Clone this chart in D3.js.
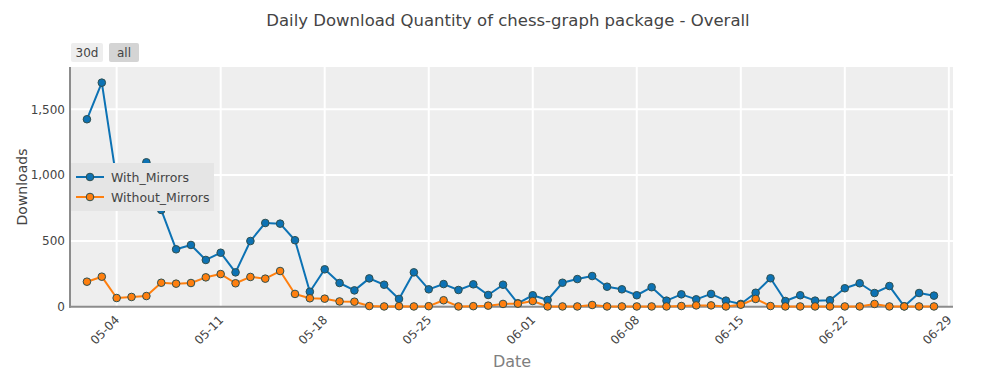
<!DOCTYPE html>
<html>
<head>
<meta charset="utf-8">
<script src="https://cdn.jsdelivr.net/npm/d3@7"></script>
<style>
    body { margin: 0; background: #fff; }
    text { font-family: "DejaVu Sans", Verdana, sans-serif; }
</style>
</head>
<body>
<div id="chart"></div>
<script>
"use strict"
// Daily values, 05-02 .. 06-28
var startDate = "2023-05-02"
var withMirrors = [1424, 1702, 960, 990, 1097, 735, 436, 469, 355, 410,
    261, 499, 636, 631, 505, 114, 284, 180, 124, 215,
    167, 59, 261, 132, 172, 127, 170, 89, 167, 26,
    87, 51, 182, 210, 233, 152, 132, 87, 148, 46,
    94, 56, 97, 46, 21, 106, 216, 43, 87, 46,
    49, 140, 178, 104, 157, 3, 104, 84]
var withoutMirrors = [190, 228, 66, 74, 81, 182, 175, 180, 223, 248,
    178, 226, 213, 271, 97, 64, 61, 40, 38, 5,
    2, 4, 2, 4, 49, 2, 4, 8, 21, 23,
    43, 2, 2, 2, 13, 2, 2, 2, 2, 2,
    5, 10, 10, 2, 15, 59, 5, 2, 2, 2,
    2, 2, 2, 21, 2, 2, 2, 2]
var seriesNames = ["With_Mirrors", "Without_Mirrors"]
var seriesColors = ["#0c72b4", "#ff7f0e"]
var yTicks = [0, 500, 1000, 1500]
var buttons = ["30d", "all"]

var width = 985, height = 392
var margin = { top: 67, right: 32, bottom: 85.3, left: 70 }
var drawWidth = width - margin.left - margin.right
var drawHeight = height - margin.top - margin.bottom

var parse = d3.timeParse("%Y-%m-%d")
var day0 = parse(startDate)
var dates = withMirrors.map(function (d, i) { return d3.timeDay.offset(day0, i) })
var DAY = 864e5

var xScale = d3.scaleTime()
    .domain([new Date(+parse("2023-05-04") - 3.14 * DAY), new Date(+parse("2023-05-04") + 56.28 * DAY)])
    .range([0, drawWidth])
var yScale = d3.scaleLinear().domain([0, 1821]).range([drawHeight, 0])

var svg = d3.select("#chart").append("svg").attr("width", width).attr("height", height)

svg.append("text")
    .attr("x", 508).attr("y", 26)
    .attr("text-anchor", "middle")
    .attr("fill", "#444").style("font-size", "16.5px")
    .text("Daily Download Quantity of chess-graph package - Overall")

var g = svg.append("g").attr("transform", "translate(" + margin.left + "," + margin.top + ")")

g.append("rect").attr("width", drawWidth).attr("height", drawHeight).attr("fill", "#eeeeee")

// weekly ticks, 05-04 .. 06-29
var xTickDates = d3.range(0, 9).map(function (i) { return d3.timeDay.offset(parse("2023-05-04"), i * 7) })

// gridlines
g.selectAll(".xgrid").data(xTickDates).enter().append("line")
    .attr("x1", function (d) { return xScale(d) }).attr("x2", function (d) { return xScale(d) })
    .attr("y1", 0).attr("y2", drawHeight)
    .attr("stroke", "#fff").attr("stroke-width", 2)
g.selectAll(".ygrid").data(yTicks.slice(1)).enter().append("line")
    .attr("x1", 0).attr("x2", drawWidth)
    .attr("y1", function (d) { return yScale(d) }).attr("y2", function (d) { return yScale(d) })
    .attr("stroke", "#fff").attr("stroke-width", 2)

// axes
var xAxis = d3.axisBottom(xScale).tickValues(xTickDates).tickFormat(d3.timeFormat("%m-%d")).tickSize(0)
var gx = g.append("g").attr("transform", "translate(0," + drawHeight + ")").call(xAxis)
gx.select(".domain").remove()
gx.selectAll("text")
    .attr("fill", "#444").style("font-size", "12px")
    .attr("text-anchor", "end")
    .attr("dy", "0")
    .attr("y", 0).attr("x", 0)
    .attr("transform", "translate(3,14) rotate(-45)")

var yAxis = d3.axisLeft(yScale).tickValues(yTicks).tickFormat(d3.format(",")).tickSize(0).tickPadding(5)
var gy = g.append("g").call(yAxis)
gy.select(".domain").remove()
gy.selectAll("text").attr("fill", "#444").style("font-size", "12px")

g.append("line").attr("x1", -1).attr("x2", drawWidth).attr("y1", drawHeight).attr("y2", drawHeight)
    .attr("stroke", "#8c8c8c").attr("stroke-width", 2)
g.append("line").attr("x1", 0).attr("x2", 0).attr("y1", 0).attr("y2", drawHeight + 1)
    .attr("stroke", "#8c8c8c").attr("stroke-width", 2)

svg.append("text").attr("x", 512).attr("y", 367).attr("text-anchor", "middle")
    .attr("fill", "#7f7f7f").style("font-size", "16px").text("Date")
svg.append("text").attr("transform", "translate(27,187) rotate(-90)").attr("text-anchor", "middle")
    .attr("fill", "#444").style("font-size", "14px").text("Downloads")

// series
var allSeries = [withMirrors, withoutMirrors]
var line = d3.line()
    .x(function (d, i) { return xScale(dates[i]) })
    .y(function (d) { return yScale(d) })

allSeries.forEach(function (values, k) {
    g.append("path").datum(values)
        .attr("fill", "none").attr("stroke", seriesColors[k]).attr("stroke-width", 2)
        .attr("stroke-linejoin", "round")
        .attr("d", line)
    g.selectAll(".pt" + k).data(values).enter().append("circle")
        .attr("cx", function (d, i) { return xScale(dates[i]) })
        .attr("cy", function (d) { return yScale(d) })
        .attr("r", 3.8)
        .attr("fill", seriesColors[k]).attr("stroke", "#2f4f4f").attr("stroke-width", 1)
})

// legend
var legend = svg.append("g").attr("transform", "translate(71,163)")
legend.append("rect").attr("width", 143).attr("height", 48).attr("fill", "#e5e5e5")
seriesNames.forEach(function (name, k) {
    var ly = 14 + k * 20
    legend.append("line").attr("x1", 5).attr("x2", 33).attr("y1", ly).attr("y2", ly)
        .attr("stroke", seriesColors[k]).attr("stroke-width", 2)
    legend.append("circle").attr("cx", 19).attr("cy", ly).attr("r", 3.8)
        .attr("fill", seriesColors[k]).attr("stroke", "#2f4f4f").attr("stroke-width", 1)
    legend.append("text").attr("x", 40).attr("y", ly + 4.5)
        .attr("fill", "#444").style("font-size", "12.5px").text(name)
})

// range selector buttons
var bx = [71, 109], bw = [32, 30]
buttons.forEach(function (b, i) {
    svg.append("rect").attr("x", bx[i]).attr("y", 43).attr("width", bw[i]).attr("height", 19)
        .attr("rx", 2).attr("fill", i == 0 ? "#eeeeee" : "#d4d4d4")
    svg.append("text").attr("x", bx[i] + bw[i] / 2).attr("y", 57).attr("text-anchor", "middle")
        .attr("fill", "#444").style("font-size", "12px").text(b)
})
</script>
</body>
</html>
